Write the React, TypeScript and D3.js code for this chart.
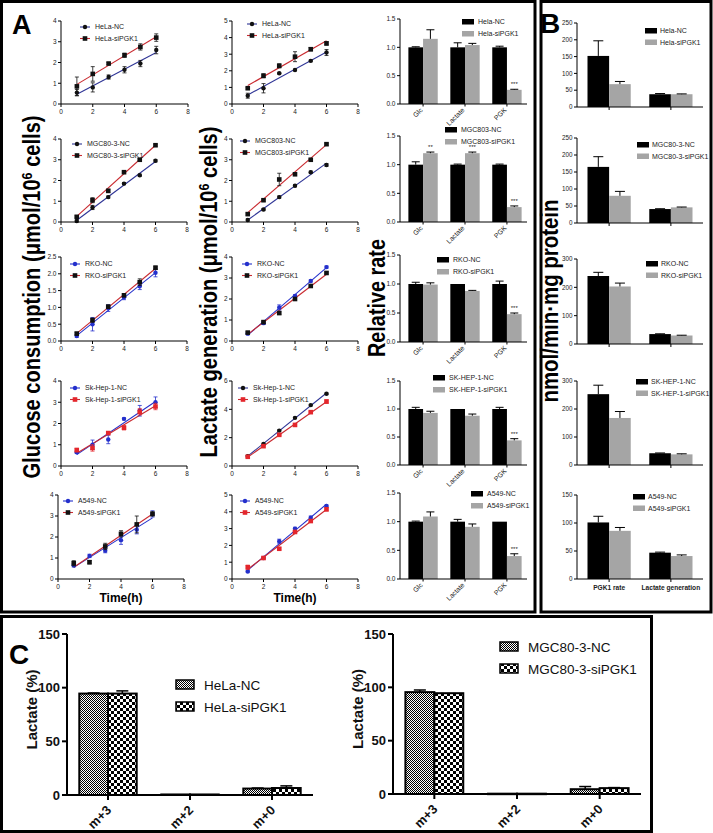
import React from 'react';
import * as d3 from 'd3';

const FONT = 'Arial, "Liberation Sans", Helvetica, sans-serif';
const W = 713;
const H = 833;

// ---------------- Panel A : time courses ----------------
const timePoints = [1, 2, 3, 4, 5, 6];
const timeTicks = [0, 2, 4, 6, 8];

// Glucose consumption
const helaGlcNC = [0.55, 0.8, 1.3, 1.65, 1.95, 2.6];
const helaGlcNCErr = [0.15, 0.22, 0.1, 0.15, 0.15, 0.18];
const helaGlcSi = [0.85, 1.45, 1.95, 2.35, 2.75, 3.2];
const helaGlcSiErr = [0.45, 0.35, 0.05, 0.1, 0.15, 0.18];

const mgcGlcNC = [0.05, 0.7, 1.2, 1.85, 2.25, 2.95];
const mgcGlcNCErr = [0.05, 0.1, 0.05, 0.05, 0.05, 0.05];
const mgcGlcSi = [0.25, 1.05, 1.5, 2.4, 3.0, 3.7];
const mgcGlcSiErr = [0.05, 0.12, 0.08, 0.05, 0.05, 0.05];

const rkoGlcNC = [0.15, 0.5, 0.98, 1.3, 1.63, 2.03];
const rkoGlcNCErr = [0.04, 0.2, 0.1, 0.07, 0.1, 0.12];
const rkoGlcSi = [0.22, 0.62, 1.02, 1.36, 1.75, 2.18];
const rkoGlcSiErr = [0.04, 0.06, 0.05, 0.04, 0.1, 0.05];

const skGlcNC = [0.65, 1.0, 1.25, 2.22, 2.6, 3.0];
const skGlcNCErr = [0.06, 0.22, 0.2, 0.05, 0.25, 0.25];
const skGlcSi = [0.75, 0.85, 1.55, 1.8, 2.55, 2.8];
const skGlcSiErr = [0.08, 0.15, 0.06, 0.1, 0.15, 0.15];

const a549GlcNC = [0.65, 1.1, 1.35, 1.85, 2.35, 3.1];
const a549GlcNCErr = [0.08, 0.08, 0.1, 0.2, 0.2, 0.15];
const a549GlcSi = [0.75, 0.8, 1.55, 2.15, 2.6, 3.1];
const a549GlcSiErr = [0.12, 0.08, 0.15, 0.15, 0.4, 0.1];

// Lactate generation
const helaLacNC = [0.5, 0.95, 1.85, 2.05, 2.6, 3.1];
const helaLacNCErr = [0.15, 0.28, 0.05, 0.05, 0.05, 0.18];
const helaLacSi = [0.95, 1.7, 2.3, 2.85, 3.3, 3.65];
const helaLacSiErr = [0.05, 0.12, 0.12, 0.3, 0.1, 0.1];

const mgcLacNC = [0.1, 0.6, 1.2, 1.75, 2.4, 2.75];
const mgcLacNCErr = [0.05, 0.05, 0.05, 0.05, 0.05, 0.06];
const mgcLacSi = [0.38, 1.05, 2.05, 2.3, 3.0, 3.75];
const mgcLacSiErr = [0.05, 0.05, 0.3, 0.06, 0.05, 0.05];

const rkoLacNC = [0.35, 0.85, 1.6, 2.15, 2.86, 3.52];
const rkoLacNCErr = [0.05, 0.06, 0.12, 0.05, 0.05, 0.05];
const rkoLacSi = [0.4, 0.9, 1.33, 2.0, 2.62, 3.24];
const rkoLacSiErr = [0.05, 0.05, 0.06, 0.05, 0.05, 0.05];

const skLacNC = [0.7, 1.55, 2.5, 3.4, 4.3, 5.1];
const skLacNCErr = [0.05, 0.05, 0.05, 0.05, 0.05, 0.05];
const skLacSi = [0.65, 1.4, 2.2, 2.9, 3.8, 4.55];
const skLacSiErr = [0.05, 0.05, 0.05, 0.05, 0.05, 0.12];

const a549LacNC = [0.45, 1.25, 2.25, 3.0, 3.65, 4.35];
const a549LacNCErr = [0.05, 0.05, 0.12, 0.08, 0.1, 0.05];
const a549LacSi = [0.7, 1.25, 1.8, 2.8, 3.45, 4.15];
const a549LacSiErr = [0.12, 0.05, 0.06, 0.08, 0.08, 0.1];

// Relative rate bars
const relCats = ['Glc', 'Lactate', 'PGK'];
const relTicks = [0, 0.5, 1.0, 1.5];
const helaRelNC = [1.0, 1.0, 1.0];
const helaRelNCErr = [0.01, 0.08, 0.02];
const helaRelSi = [1.15, 1.04, 0.25];
const helaRelSiErr = [0.16, 0.03, 0.01];
const helaRelSig = ['', '', '***'];

const mgcRelNC = [1.0, 1.0, 1.0];
const mgcRelNCErr = [0.05, 0.01, 0.01];
const mgcRelSi = [1.2, 1.2, 0.26];
const mgcRelSiErr = [0.02, 0.02, 0.02];
const mgcRelSig = ['**', '***', '***'];

const rkoRelNC = [1.0, 1.0, 1.0];
const rkoRelNCErr = [0.03, 0.0, 0.05];
const rkoRelSi = [0.99, 0.88, 0.48];
const rkoRelSiErr = [0.03, 0.01, 0.02];
const rkoRelSig = ['', '', '***'];

const skRelNC = [1.0, 1.0, 1.0];
const skRelNCErr = [0.03, 0.0, 0.03];
const skRelSi = [0.93, 0.88, 0.44];
const skRelSiErr = [0.03, 0.03, 0.03];
const skRelSig = ['', '', '***'];

const a549RelNC = [1.0, 1.0, 1.0];
const a549RelNCErr = [0.01, 0.04, 0.0];
const a549RelSi = [1.09, 0.91, 0.4];
const a549RelSiErr = [0.08, 0.05, 0.04];
const a549RelSig = ['', '', '***'];

// ---------------- Panel B ----------------
const bCats = ['PGK1 rate', 'Lactate generation'];
const helaBNC = [152, 38];
const helaBNCErr = [45, 2];
const helaBSi = [68, 38];
const helaBSiErr = [8, 1];

const mgcBNC = [165, 41];
const mgcBNCErr = [30, 1];
const mgcBSi = [80, 46];
const mgcBSiErr = [13, 1];

const rkoBNC = [240, 35];
const rkoBNCErr = [13, 1];
const rkoBSi = [203, 30];
const rkoBSiErr = [12, 1];

const skBNC = [253, 42];
const skBNCErr = [32, 1];
const skBSi = [168, 38];
const skBSiErr = [23, 2];

const a549BNC = [101, 47];
const a549BNCErr = [11, 1];
const a549BSi = [86, 41];
const a549BSiErr = [6, 2];

// ---------------- Panel C ----------------
const cCats = ['m+3', 'm+2', 'm+0'];
const cTicks = [0, 50, 100, 150];
const helaCNC = [94.5, 0.5, 6];
const helaCNCErr = [0.5, 0, 0.5];
const helaCSi = [94.5, 0.5, 6.5];
const helaCSiErr = [2.5, 0, 2];
const mgcCNC = [95.5, 0.3, 4.5];
const mgcCNCErr = [2, 0, 2.5];
const mgcCSi = [94.5, 0.3, 5.5];
const mgcCSiErr = [0, 0, 0.5];

// ---------------- styles ----------------
const NAVY = '#2f3596';
const RED = '#c92a30';
const BLUE = '#2430cc';
const BRED = '#e4262c';
const BLK = '#111111';
const GREY = '#a5a5a5';

function linreg(xs: number[], ys: number[]) {
  const mx = d3.mean(xs) as number;
  const my = d3.mean(ys) as number;
  let num = 0;
  let den = 0;
  xs.forEach((x, i) => {
    num += (x - mx) * (ys[i] - my);
    den += (x - mx) * (x - mx);
  });
  const b = num / den;
  return [my - b * mx, b];
}

function Marker({ type, cx, cy, color }: any) {
  if (type === 'c') return <circle cx={cx} cy={cy} r={2.2} fill={color} />;
  return <rect x={cx - 2.3} y={cy - 2.3} width={4.6} height={4.6} fill={color} />;
}

function LinePlot(p: any) {
  const { x0, x1, yTop, yBot, yMax, yTicks, fmt, series, legX, legY } = p;
  const xs = d3.scaleLinear().domain([0, 8]).range([x0, x1]);
  const ys = d3.scaleLinear().domain([0, yMax]).range([yBot, yTop]);
  const f = fmt ? d3.format(fmt) : (d: number) => String(d);
  return (
    <g>
      {series.map((s: any, i: number) => {
        const [a, b] = linreg(timePoints, s.vals);
        return (
          <line key={'r' + i} x1={xs(1)} y1={ys(a + b)} x2={xs(6)} y2={ys(a + b * 6)} stroke={s.lColor} strokeWidth={1.1} />
        );
      })}
      {series.map((s: any, i: number) =>
        s.vals.map((v: number, j: number) => {
          const e = s.errs[j];
          const cx = xs(timePoints[j]);
          return (
            <g key={'p' + i + '_' + j}>
              <line x1={cx} x2={cx} y1={ys(v - e)} y2={ys(v + e)} stroke={s.mColor} strokeWidth={0.8} />
              <line x1={cx - 2} x2={cx + 2} y1={ys(v - e)} y2={ys(v - e)} stroke={s.mColor} strokeWidth={0.8} />
              <line x1={cx - 2} x2={cx + 2} y1={ys(v + e)} y2={ys(v + e)} stroke={s.mColor} strokeWidth={0.8} />
              <Marker type={s.marker} cx={cx} cy={ys(v)} color={s.mColor} />
            </g>
          );
        })
      )}
      <line x1={x0} x2={x0} y1={yTop} y2={yBot} stroke="#000" strokeWidth={1} />
      <line x1={x0} x2={x1} y1={yBot} y2={yBot} stroke="#000" strokeWidth={1} />
      {yTicks.map((t: number) => (
        <g key={'yt' + t}>
          <line x1={x0 - 3} x2={x0} y1={ys(t)} y2={ys(t)} stroke="#000" strokeWidth={1} />
          <text x={x0 - 4.5} y={ys(t) + 2.3} fontSize={6.5} textAnchor="end" fill="#222">{f(t)}</text>
        </g>
      ))}
      {timeTicks.map((t: number) => (
        <g key={'xt' + t}>
          <line x1={xs(t)} x2={xs(t)} y1={yBot} y2={yBot + 3} stroke="#000" strokeWidth={1} />
          <text x={xs(t)} y={yBot + 10} fontSize={6.5} textAnchor="middle" fill="#222">{t}</text>
        </g>
      ))}
      {series.map((s: any, i: number) => {
        const ly = legY + i * 11.5;
        return (
          <g key={'l' + i}>
            <line x1={legX} x2={legX + 10} y1={ly} y2={ly} stroke={s.lColor} strokeWidth={1.1} />
            <Marker type={s.marker} cx={legX + 5} cy={ly} color={s.mColor} />
            <text x={legX + 15} y={ly + 2.4} fontSize={7} fill="#222">{s.label}</text>
          </g>
        );
      })}
    </g>
  );
}

function ErrUp({ cx, y0, y1, hw }: any) {
  return (
    <g>
      <line x1={cx} x2={cx} y1={y0} y2={y1} stroke="#000" strokeWidth={1} />
      <line x1={cx - hw} x2={cx + hw} y1={y1} y2={y1} stroke="#000" strokeWidth={1} />
    </g>
  );
}

function RelPlot(p: any) {
  const { yTop, yBot, nc, ncErr, si, siErr, sig, names, legX, legY } = p;
  const x = d3.scaleBand().domain(relCats).range([400, 530]).paddingInner(0.3).paddingOuter(0.2);
  const y = d3.scaleLinear().domain([0, 1.5]).range([yBot, yTop]);
  const bw = x.bandwidth() / 2;
  return (
    <g>
      {relCats.map((c, i) => {
        const gx = x(c) as number;
        return (
          <g key={c}>
            <rect x={gx} y={y(nc[i])} width={bw} height={yBot - y(nc[i])} fill="#000" />
            <rect x={gx + bw} y={y(si[i])} width={bw} height={yBot - y(si[i])} fill={GREY} />
            {ncErr[i] > 0 && <ErrUp cx={gx + bw / 2} y0={y(nc[i])} y1={y(nc[i] + ncErr[i])} hw={4} />}
            {siErr[i] > 0 && <ErrUp cx={gx + bw * 1.5} y0={y(si[i])} y1={y(si[i] + siErr[i])} hw={4} />}
            {sig[i] && (
              <text x={gx + bw * 1.5} y={y(si[i] + siErr[i]) - 3} fontSize={6} textAnchor="middle" fill="#222">{sig[i]}</text>
            )}
            <line x1={gx + bw} x2={gx + bw} y1={yBot} y2={yBot + 2.5} stroke="#000" />
            <text transform={`translate(${gx + bw},${yBot + 6.5}) rotate(-45)`} fontSize={6.8} textAnchor="end" fill="#222">{c}</text>
          </g>
        );
      })}
      <line x1={400} x2={400} y1={yTop} y2={yBot} stroke="#000" />
      <line x1={400} x2={527} y1={yBot} y2={yBot} stroke="#000" />
      {relTicks.map((t) => (
        <g key={t}>
          <line x1={397} x2={400} y1={y(t)} y2={y(t)} stroke="#000" />
          <text x={395.5} y={y(t) + 2.3} fontSize={6.5} textAnchor="end" fill="#222">{d3.format('.1f')(t)}</text>
        </g>
      ))}
      <rect x={legX} y={legY} width={12} height={5.5} fill="#000" />
      <rect x={legX} y={legY + 12} width={12} height={5.5} fill={GREY} />
      <text x={legX + 16} y={legY + 5} fontSize={7} fill="#222">{names[0]}</text>
      <text x={legX + 16} y={legY + 17} fontSize={7} fill="#222">{names[1]}</text>
    </g>
  );
}

function BPlot(p: any) {
  const { yTop, yBot, yMax, yStep, nc, ncErr, si, siErr, names, legX, legY, showX } = p;
  const x0 = 577;
  const x = d3.scaleBand().domain(bCats).range([x0, 703]).paddingInner(0.3).paddingOuter(0.17);
  const y = d3.scaleLinear().domain([0, yMax]).range([yBot, yTop]);
  const bw = x.bandwidth() / 2;
  const ticks = d3.range(0, yMax + 1, yStep);
  return (
    <g>
      {bCats.map((c, i) => {
        const gx = x(c) as number;
        return (
          <g key={c}>
            <rect x={gx} y={y(nc[i])} width={bw} height={yBot - y(nc[i])} fill="#000" />
            <rect x={gx + bw} y={y(si[i])} width={bw} height={yBot - y(si[i])} fill={GREY} />
            <ErrUp cx={gx + bw / 2} y0={y(nc[i])} y1={y(nc[i] + ncErr[i])} hw={5} />
            <ErrUp cx={gx + bw * 1.5} y0={y(si[i])} y1={y(si[i] + siErr[i])} hw={5} />
            <line x1={gx + bw} x2={gx + bw} y1={yBot} y2={yBot + 3} stroke="#000" />
            {showX && (
              <text x={gx + bw} y={yBot + 10.5} fontSize={6.6} fontWeight="bold" textAnchor="middle" fill="#222">{c}</text>
            )}
          </g>
        );
      })}
      <line x1={x0} x2={x0} y1={yTop} y2={yBot} stroke="#000" />
      <line x1={x0} x2={703} y1={yBot} y2={yBot} stroke="#000" />
      {ticks.map((t) => (
        <g key={t}>
          <line x1={x0 - 3} x2={x0} y1={y(t)} y2={y(t)} stroke="#000" />
          <text x={x0 - 4.5} y={y(t) + 2.2} fontSize={6.3} textAnchor="end" fill="#222">{t}</text>
        </g>
      ))}
      <rect x={legX} y={legY} width={12} height={5.5} fill="#000" />
      <rect x={legX} y={legY + 11.5} width={12} height={5.5} fill={GREY} />
      <text x={legX + 15} y={legY + 5} fontSize={7} fill="#222">{names[0]}</text>
      <text x={legX + 15} y={legY + 16.5} fontSize={7} fill="#222">{names[1]}</text>
    </g>
  );
}

function ErrC({ cx, y0, y1, hw }: any) {
  return (
    <g>
      <line x1={cx} x2={cx} y1={y0} y2={y1} stroke="#000" strokeWidth={1.5} />
      <line x1={cx - hw} x2={cx + hw} y1={y1} y2={y1} stroke="#000" strokeWidth={1.5} />
    </g>
  );
}

function CPlot(p: any) {
  const { x0, x1, yTop, yBot, nc, ncErr, si, siErr, names, legX, legY, labX } = p;
  const x = d3.scaleBand().domain(cCats).range([x0, x1]).paddingInner(0.3).paddingOuter(0.15);
  const y = d3.scaleLinear().domain([0, 150]).range([yBot, yTop]);
  const bw = x.bandwidth() / 2;
  return (
    <g>
      {cCats.map((c, i) => {
        const gx = x(c) as number;
        return (
          <g key={c}>
            <rect x={gx} y={y(nc[i])} width={bw} height={Math.max(0.5, yBot - y(nc[i]))} fill="url(#patNC)" stroke="#000" strokeWidth={2} />
            <rect x={gx + bw} y={y(si[i])} width={bw} height={Math.max(0.5, yBot - y(si[i]))} fill="url(#patSi)" stroke="#000" strokeWidth={2} />
            {ncErr[i] > 0 && <ErrC cx={gx + bw / 2} y0={y(nc[i])} y1={y(nc[i] + ncErr[i])} hw={6} />}
            {siErr[i] > 0 && <ErrC cx={gx + bw * 1.5} y0={y(si[i])} y1={y(si[i] + siErr[i])} hw={6} />}
            <line x1={gx + bw} x2={gx + bw} y1={yBot} y2={yBot + 5} stroke="#000" strokeWidth={2} />
            <text transform={`translate(${gx + bw + 4},${yBot + 16}) rotate(-45)`} fontSize={13} fontWeight="bold" textAnchor="end" fill="#111">{c}</text>
          </g>
        );
      })}
      <line x1={x0} x2={x0} y1={yTop} y2={yBot + 1} stroke="#000" strokeWidth={2} />
      <line x1={x0 - 1} x2={x1} y1={yBot} y2={yBot} stroke="#000" strokeWidth={2} />
      {cTicks.map((t) => (
        <g key={t}>
          <line x1={x0 - 5} x2={x0} y1={y(t)} y2={y(t)} stroke="#000" strokeWidth={2} />
          <text x={x0 - 7} y={y(t) + 4.5} fontSize={13} fontWeight="bold" textAnchor="end" fill="#111">{t}</text>
        </g>
      ))}
      <text transform={`translate(${labX},${(yTop + yBot) / 2 - 5}) rotate(-90)`} fontSize={15} fontWeight="bold" textAnchor="middle" fill="#111">Lactate (%)</text>
      <rect x={legX} y={legY} width={18} height={9} fill="url(#patNC)" stroke="#000" strokeWidth={1.5} />
      <rect x={legX} y={legY + 22} width={18} height={9} fill="url(#patSi)" stroke="#000" strokeWidth={1.5} />
      <text x={legX + 28} y={legY + 9.5} fontSize={13.5} fill="#111">{names[0]}</text>
      <text x={legX + 28} y={legY + 31.5} fontSize={13.5} fill="#111">{names[1]}</text>
    </g>
  );
}

const rowY = [
  { top: 21, bot: 104 },
  { top: 139, bot: 222 },
  { top: 257, bot: 341 },
  { top: 381, bot: 466 },
  { top: 495, bot: 579 },
];

const s = (vals: number[], errs: number[], marker: string, mColor: string, lColor: string, label: string) => ({
  vals, errs, marker, mColor, lColor, label,
});

const glcPanels = [
  { yMax: 4, yTicks: [0, 1, 2, 3, 4], legX: 80, legY: 27, x0: 61, x1: 188,
    series: [s(helaGlcNC, helaGlcNCErr, 'c', BLK, NAVY, 'HeLa-NC'), s(helaGlcSi, helaGlcSiErr, 's', BLK, RED, 'HeLa-siPGK1')] },
  { yMax: 4, yTicks: [0, 1, 2, 3, 4], legX: 72, legY: 144, x0: 61, x1: 187,
    series: [s(mgcGlcNC, mgcGlcNCErr, 'c', BLK, NAVY, 'MGC80-3-NC'), s(mgcGlcSi, mgcGlcSiErr, 's', BLK, RED, 'MGC80-3-siPGK1')] },
  { yMax: 2.5, yTicks: [0, 0.5, 1, 1.5, 2, 2.5], fmt: '.1f', legX: 70, legY: 264, x0: 61, x1: 187,
    series: [s(rkoGlcNC, rkoGlcNCErr, 'c', BLUE, BLUE, 'RKO-NC'), s(rkoGlcSi, rkoGlcSiErr, 's', BLK, RED, 'RKO-siPGK1')] },
  { yMax: 4, yTicks: [0, 1, 2, 3, 4], legX: 70, legY: 388, x0: 61, x1: 187,
    series: [s(skGlcNC, skGlcNCErr, 'c', BLUE, BLUE, 'Sk-Hep-1-NC'), s(skGlcSi, skGlcSiErr, 's', BRED, RED, 'Sk-Hep-1-siPGK1')] },
  { yMax: 4, yTicks: [0, 1, 2, 3, 4], legX: 63, legY: 501, x0: 58, x1: 184,
    series: [s(a549GlcNC, a549GlcNCErr, 'c', BLUE, BLUE, 'A549-NC'), s(a549GlcSi, a549GlcSiErr, 's', BLK, RED, 'A549-siPGK1')] },
];

const lacPanels = [
  { yMax: 5, yTicks: [0, 1, 2, 3, 4, 5], legX: 247, legY: 24,
    series: [s(helaLacNC, helaLacNCErr, 'c', BLK, NAVY, 'HeLa-NC'), s(helaLacSi, helaLacSiErr, 's', BLK, RED, 'HeLa-siPGK1')] },
  { yMax: 4, yTicks: [0, 1, 2, 3, 4], legX: 240, legY: 141,
    series: [s(mgcLacNC, mgcLacNCErr, 'c', BLK, NAVY, 'MGC803-NC'), s(mgcLacSi, mgcLacSiErr, 's', BLK, RED, 'MGC803-siPGK1')] },
  { yMax: 4, yTicks: [0, 1, 2, 3, 4], legX: 242, legY: 264,
    series: [s(rkoLacNC, rkoLacNCErr, 'c', BLUE, BLUE, 'RKO-NC'), s(rkoLacSi, rkoLacSiErr, 's', BLK, RED, 'RKO-siPGK1')] },
  { yMax: 6, yTicks: [0, 2, 4, 6], legX: 238, legY: 388,
    series: [s(skLacNC, skLacNCErr, 'c', BLK, NAVY, 'Sk-Hep-1-NC'), s(skLacSi, skLacSiErr, 's', BRED, RED, 'Sk-Hep-1-siPGK1')] },
  { yMax: 5, yTicks: [0, 1, 2, 3, 4, 5], legX: 240, legY: 501,
    series: [s(a549LacNC, a549LacNCErr, 'c', BLUE, BLUE, 'A549-NC'), s(a549LacSi, a549LacSiErr, 's', BRED, RED, 'A549-siPGK1')] },
];

const relPanels = [
  { top: 19, bot: 104, nc: helaRelNC, ncErr: helaRelNCErr, si: helaRelSi, siErr: helaRelSiErr, sig: helaRelSig, names: ['Hela-NC', 'Hela-siPGK1'], legX: 462, legY: 19 },
  { top: 136, bot: 222, nc: mgcRelNC, ncErr: mgcRelNCErr, si: mgcRelSi, siErr: mgcRelSiErr, sig: mgcRelSig, names: ['MGC803-NC', 'MGC803-siPGK1'], legX: 445, legY: 127 },
  { top: 255, bot: 342, nc: rkoRelNC, ncErr: rkoRelNCErr, si: rkoRelSi, siErr: rkoRelSiErr, sig: rkoRelSig, names: ['RKO-NC', 'RKO-siPGK1'], legX: 437, legY: 257 },
  { top: 381, bot: 465, nc: skRelNC, ncErr: skRelNCErr, si: skRelSi, siErr: skRelSiErr, sig: skRelSig, names: ['SK-HEP-1-NC', 'SK-HEP-1-siPGK1'], legX: 433, legY: 375 },
  { top: 493, bot: 579, nc: a549RelNC, ncErr: a549RelNCErr, si: a549RelSi, siErr: a549RelSiErr, sig: a549RelSig, names: ['A549-NC', 'A549-siPGK1'], legX: 471, legY: 491 },
];

const bPanels = [
  { top: 23, bot: 107, yMax: 250, yStep: 50, nc: helaBNC, ncErr: helaBNCErr, si: helaBSi, siErr: helaBSiErr, names: ['Hela-NC', 'Hela-siPGK1'], legX: 645, legY: 28 },
  { top: 138, bot: 223, yMax: 250, yStep: 50, nc: mgcBNC, ncErr: mgcBNCErr, si: mgcBSi, siErr: mgcBSiErr, names: ['MGC80-3-NC', 'MGC80-3-siPGK1'], legX: 637, legY: 142 },
  { top: 259, bot: 344, yMax: 300, yStep: 100, nc: rkoBNC, ncErr: rkoBNCErr, si: rkoBSi, siErr: rkoBSiErr, names: ['RKO-NC', 'RKO-siPGK1'], legX: 646, legY: 261 },
  { top: 381, bot: 465, yMax: 300, yStep: 100, nc: skBNC, ncErr: skBNCErr, si: skBSi, siErr: skBSiErr, names: ['SK-HEP-1-NC', 'SK-HEP-1-siPGK1'], legX: 636, legY: 379 },
  { top: 495, bot: 579, yMax: 150, yStep: 50, nc: a549BNC, ncErr: a549BNCErr, si: a549BSi, siErr: a549BSiErr, names: ['A549-NC', 'A549-siPGK1'], legX: 633, legY: 494, showX: true },
];

export default function App() {
  return (
    <svg width={W} height={H} viewBox={`0 0 ${W} ${H}`} style={{ position: 'absolute', left: 0, top: 0, background: '#fff' }} fontFamily={FONT}>
      <defs>
        <pattern id="patNC" patternUnits="userSpaceOnUse" width={2} height={2}>
          <rect width={2} height={2} fill="#fff" />
          <rect x={0} y={0} width={1} height={1} fill="#000" />
          <rect x={1} y={1} width={1} height={1} fill="#000" />
        </pattern>
        <pattern id="patSi" patternUnits="userSpaceOnUse" width={6} height={6}>
          <rect width={6} height={6} fill="#fff" />
          <rect x={0} y={0} width={3} height={3} fill="#000" />
          <rect x={3} y={3} width={3} height={3} fill="#000" />
        </pattern>
      </defs>
      <rect width={W} height={H} fill="#fff" />

      {/* Panel frames */}
      <rect x={1.5} y={1.5} width={533.5} height={610.5} fill="none" stroke="#000" strokeWidth={3} />
      <rect x={541} y={1.5} width={170} height={610.5} fill="none" stroke="#000" strokeWidth={3} />
      <rect x={1.5} y={616.5} width={650} height={215} fill="none" stroke="#000" strokeWidth={3} />

      <text x={12} y={34} fontSize={27} fontWeight="bold" fill="#000">A</text>
      <text x={540} y={33} fontSize={28} fontWeight="bold" fill="#000">B</text>
      <text x={9} y={664} fontSize={28} fontWeight="bold" fill="#000">C</text>

      {glcPanels.map((g, i) => (
        <LinePlot key={'g' + i} x0={g.x0} x1={g.x1} yTop={rowY[i].top} yBot={rowY[i].bot} yMax={g.yMax} yTicks={g.yTicks} fmt={(g as any).fmt} series={g.series} legX={g.legX} legY={g.legY} />
      ))}
      {lacPanels.map((g, i) => (
        <LinePlot key={'l' + i} x0={232} x1={358} yTop={rowY[i].top} yBot={rowY[i].bot} yMax={g.yMax} yTicks={g.yTicks} series={g.series} legX={g.legX} legY={g.legY} />
      ))}
      {relPanels.map((r, i) => (
        <RelPlot key={'r' + i} yTop={r.top} yBot={r.bot} nc={r.nc} ncErr={r.ncErr} si={r.si} siErr={r.siErr} sig={r.sig} names={r.names} legX={r.legX} legY={r.legY} />
      ))}
      {bPanels.map((b, i) => (
        <BPlot key={'b' + i} yTop={b.top} yBot={b.bot} yMax={b.yMax} yStep={b.yStep} nc={b.nc} ncErr={b.ncErr} si={b.si} siErr={b.siErr} names={b.names} legX={b.legX} legY={b.legY} showX={(b as any).showX} />
      ))}

      {/* Big axis titles */}
      <text transform="translate(40,297) rotate(-90)" fontSize={24} fontWeight="bold" textAnchor="middle" fill="#000" textLength={363} lengthAdjust="spacingAndGlyphs">
        Glucose consumption (μmol/10<tspan dy={-8} fontSize={15}>6</tspan><tspan dy={8}> cells)</tspan>
      </text>
      <text transform="translate(217,292) rotate(-90)" fontSize={24} fontWeight="bold" textAnchor="middle" fill="#000" textLength={331} lengthAdjust="spacingAndGlyphs">
        Lactate generation (μmol/10<tspan dy={-8} fontSize={15}>6</tspan><tspan dy={8}> cells)</tspan>
      </text>
      <text transform="translate(385,298) rotate(-90)" fontSize={24} fontWeight="bold" textAnchor="middle" fill="#000" textLength={118} lengthAdjust="spacingAndGlyphs">Relative rate</text>
      <text transform="translate(558,301) rotate(-90)" fontSize={24} fontWeight="bold" textAnchor="middle" fill="#000" textLength={203} lengthAdjust="spacingAndGlyphs">nmol/min·mg protein</text>

      <text x={121} y={601.5} fontSize={12} fontWeight="bold" textAnchor="middle" fill="#000">Time(h)</text>
      <text x={295} y={601.5} fontSize={12} fontWeight="bold" textAnchor="middle" fill="#000">Time(h)</text>

      <CPlot x0={67} x1={313} yTop={634} yBot={795} nc={helaCNC} ncErr={helaCNCErr} si={helaCSi} siErr={helaCSiErr} names={['HeLa-NC', 'HeLa-siPGK1']} legX={176} legY={680} labX={37} />
      <CPlot x0={393} x1={641} yTop={634} yBot={794} nc={mgcCNC} ncErr={mgcCNCErr} si={mgcCSi} siErr={mgcCSiErr} names={['MGC80-3-NC', 'MGC80-3-siPGK1']} legX={500} legY={642} labX={363} />
    </svg>
  );
}
